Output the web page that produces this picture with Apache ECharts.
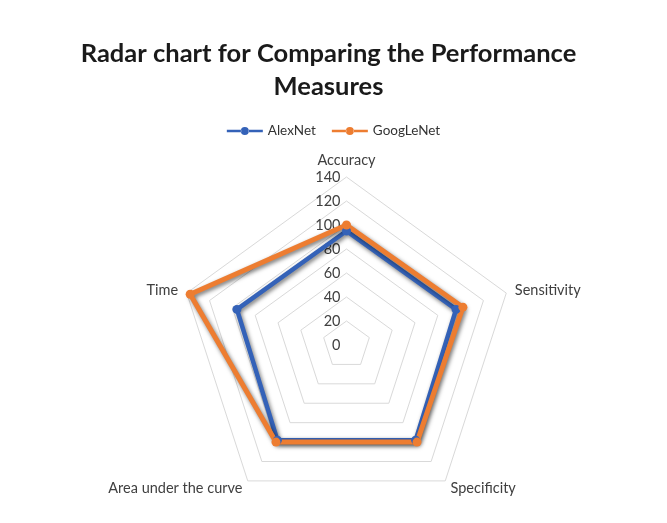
<!DOCTYPE html>
<html>
<head>
<meta charset="utf-8">
<script src="https://cdn.jsdelivr.net/npm/echarts@6/dist/echarts.min.js"></script>
<style>
html,body{margin:0;padding:0;background:#fff;}
#chart{width:667px;height:523px;}
</style>
</head>
<body>
<div id="chart"></div>
<script>
const categories = ['Accuracy', 'Sensitivity', 'Specificity', 'Area under the curve', 'Time'];
const alexNet = [95, 96, 98, 98, 96];
const googLeNet = [100, 102, 100, 100, 137];
const axisMax = 140;
const axisSplits = 7;

// ECharts places radar indicators counter-clockwise; Excel goes clockwise.
const order = [0, 4, 3, 2, 1];
const reorder = arr => order.map(i => arr[i]);

const FONT = 'Lato, "Open Sans", sans-serif';
const chart = echarts.init(document.getElementById('chart'), null, {renderer: 'canvas'});

const indicators = order.map((ci, k) => {
  const ind = {name: categories[ci], min: 0, max: axisMax};
  if (k === 0) ind.axisLabel = {show: true};
  return ind;
});

const legendIcon = 'path://M0,3h14.4v2.4h-14.4z M21.6,3h14.4v2.4h-14.4z M18,0.2a4,4 0 1,0 0.01,0z';

chart.setOption({
  backgroundColor: '#ffffff',
  animation: false,
  title: {
    text: 'Radar chart for Comparing the Performance\nMeasures',
    left: 323.5,
    top: 32,
    textAlign: 'center',
    textStyle: {
      fontFamily: FONT, fontSize: 25.5, fontWeight: 'bold', color: '#1a1a1a', lineHeight: 33
    }
  },
  legend: {
    top: 119,
    left: 'center',
    itemWidth: 36,
    itemHeight: 8,
    itemGap: 16,
    textStyle: {fontFamily: FONT, fontSize: 13.5, color: '#333333'},
    data: [
      {name: 'AlexNet', icon: legendIcon},
      {name: 'GoogLeNet', icon: legendIcon}
    ]
  },
  radar: {
    center: [346.5, 345],
    radius: 168,
    startAngle: 90,
    shape: 'polygon',
    splitNumber: axisSplits,
    indicator: indicators,
    axisName: {fontFamily: FONT, fontSize: 14.5, color: '#404040'},
    nameGap: 9,
    axisLine: {show: false},
    axisTick: {show: false},
    splitArea: {show: false},
    splitLine: {lineStyle: {color: '#d9d9d9', width: 1}},
    axisLabel: {show: false, fontFamily: FONT, fontSize: 14.5, color: '#404040', margin: 6, showMinLabel: true}
  },
  series: [{
    type: 'radar',
    symbol: 'circle',
    symbolSize: 9,
    data: [
      {
        name: 'AlexNet', value: reorder(alexNet),
        lineStyle: {color: '#3462b8', width: 4.5, shadowColor: 'rgba(0,0,0,0.55)', shadowBlur: 4, shadowOffsetX: 1.5, shadowOffsetY: 2},
        itemStyle: {color: '#3462b8'}
      },
      {
        name: 'GoogLeNet', value: reorder(googLeNet),
        lineStyle: {color: '#ed7d31', width: 5, shadowColor: 'rgba(0,0,0,0.55)', shadowBlur: 4, shadowOffsetX: 1.5, shadowOffsetY: 2},
        itemStyle: {color: '#ed7d31'}
      }
    ]
  }]
});
</script>
</body>
</html>
